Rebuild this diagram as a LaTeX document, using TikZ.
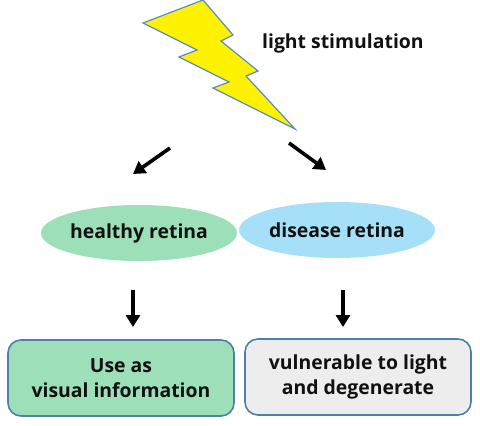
\documentclass[tikz,border=0pt]{standalone}
\usepackage{fontspec}
\setmainfont{Open Sans}
\usetikzlibrary{arrows.meta,shapes.geometric}
\definecolor{edgeblue}{HTML}{5B8DB8}
\definecolor{boxedge}{HTML}{4F81A8}
\definecolor{mint}{HTML}{9CDFB8}
\definecolor{sky}{HTML}{A5E0F8}
\definecolor{pale}{HTML}{EDEDED}
\definecolor{ink}{HTML}{111111}
\tikzset{
  label/.style={font=\bfseries\fontsize{19.4}{25}\selectfont, text=ink, align=center, inner sep=0pt},
  oval/.style={ellipse, minimum width=196pt, minimum height=56pt, inner sep=0pt},
  card/.style={rounded corners=13pt, draw=boxedge, line width=1.6pt, minimum width=226pt, minimum height=76pt, inner sep=0pt},
  flow/.style={-{Triangle[length=12pt,width=14pt]}, line width=3.6pt, draw=black}
}
\begin{document}
\begin{tikzpicture}[x=1pt,y=-1pt]
\useasboundingbox (0,0) rectangle (480,426);
\fill[white] (0,0) rectangle (480,426);
\draw[fill=yellow, draw=edgeblue, line width=1.2pt, line join=miter]
 (143,23) -- (203,0) -- (233,35) -- (221,41) -- (258,71) -- (246,76) -- (295,129) -- (213,88) -- (229,82) -- (179,57) -- (197,50) -- cycle;
\node[label, anchor=west] (light) at (262,43) {light stimulation};
\node[oval, fill=mint] (healthy) at (139,233) {};
\node[label] at (healthy) {healthy retina};
\node[oval, fill=sky] (disease) at (337,230) {};
\node[label] at (disease) {disease retina};
\node[card, fill=mint] (use) at (121,378) {};
\node[label] at (use) {Use as\\visual information};
\node[card, fill=pale] (vuln) at (358,377) {};
\node[label] at (vuln) {vulnerable to light\\and degenerate};
\coordinate (a1) at (170,148); \coordinate (a2) at (133,174);
\coordinate (b1) at (289,143); \coordinate (b2) at (326,170);
\coordinate (c1) at (133,290); \coordinate (c2) at (133,327);
\coordinate (d1) at (343,290); \coordinate (d2) at (343,327);
\draw[flow] (a1) -- (a2);
\draw[flow] (b1) -- (b2);
\draw[flow] (c1) -- (c2);
\draw[flow] (d1) -- (d2);
\end{tikzpicture}
\end{document}
